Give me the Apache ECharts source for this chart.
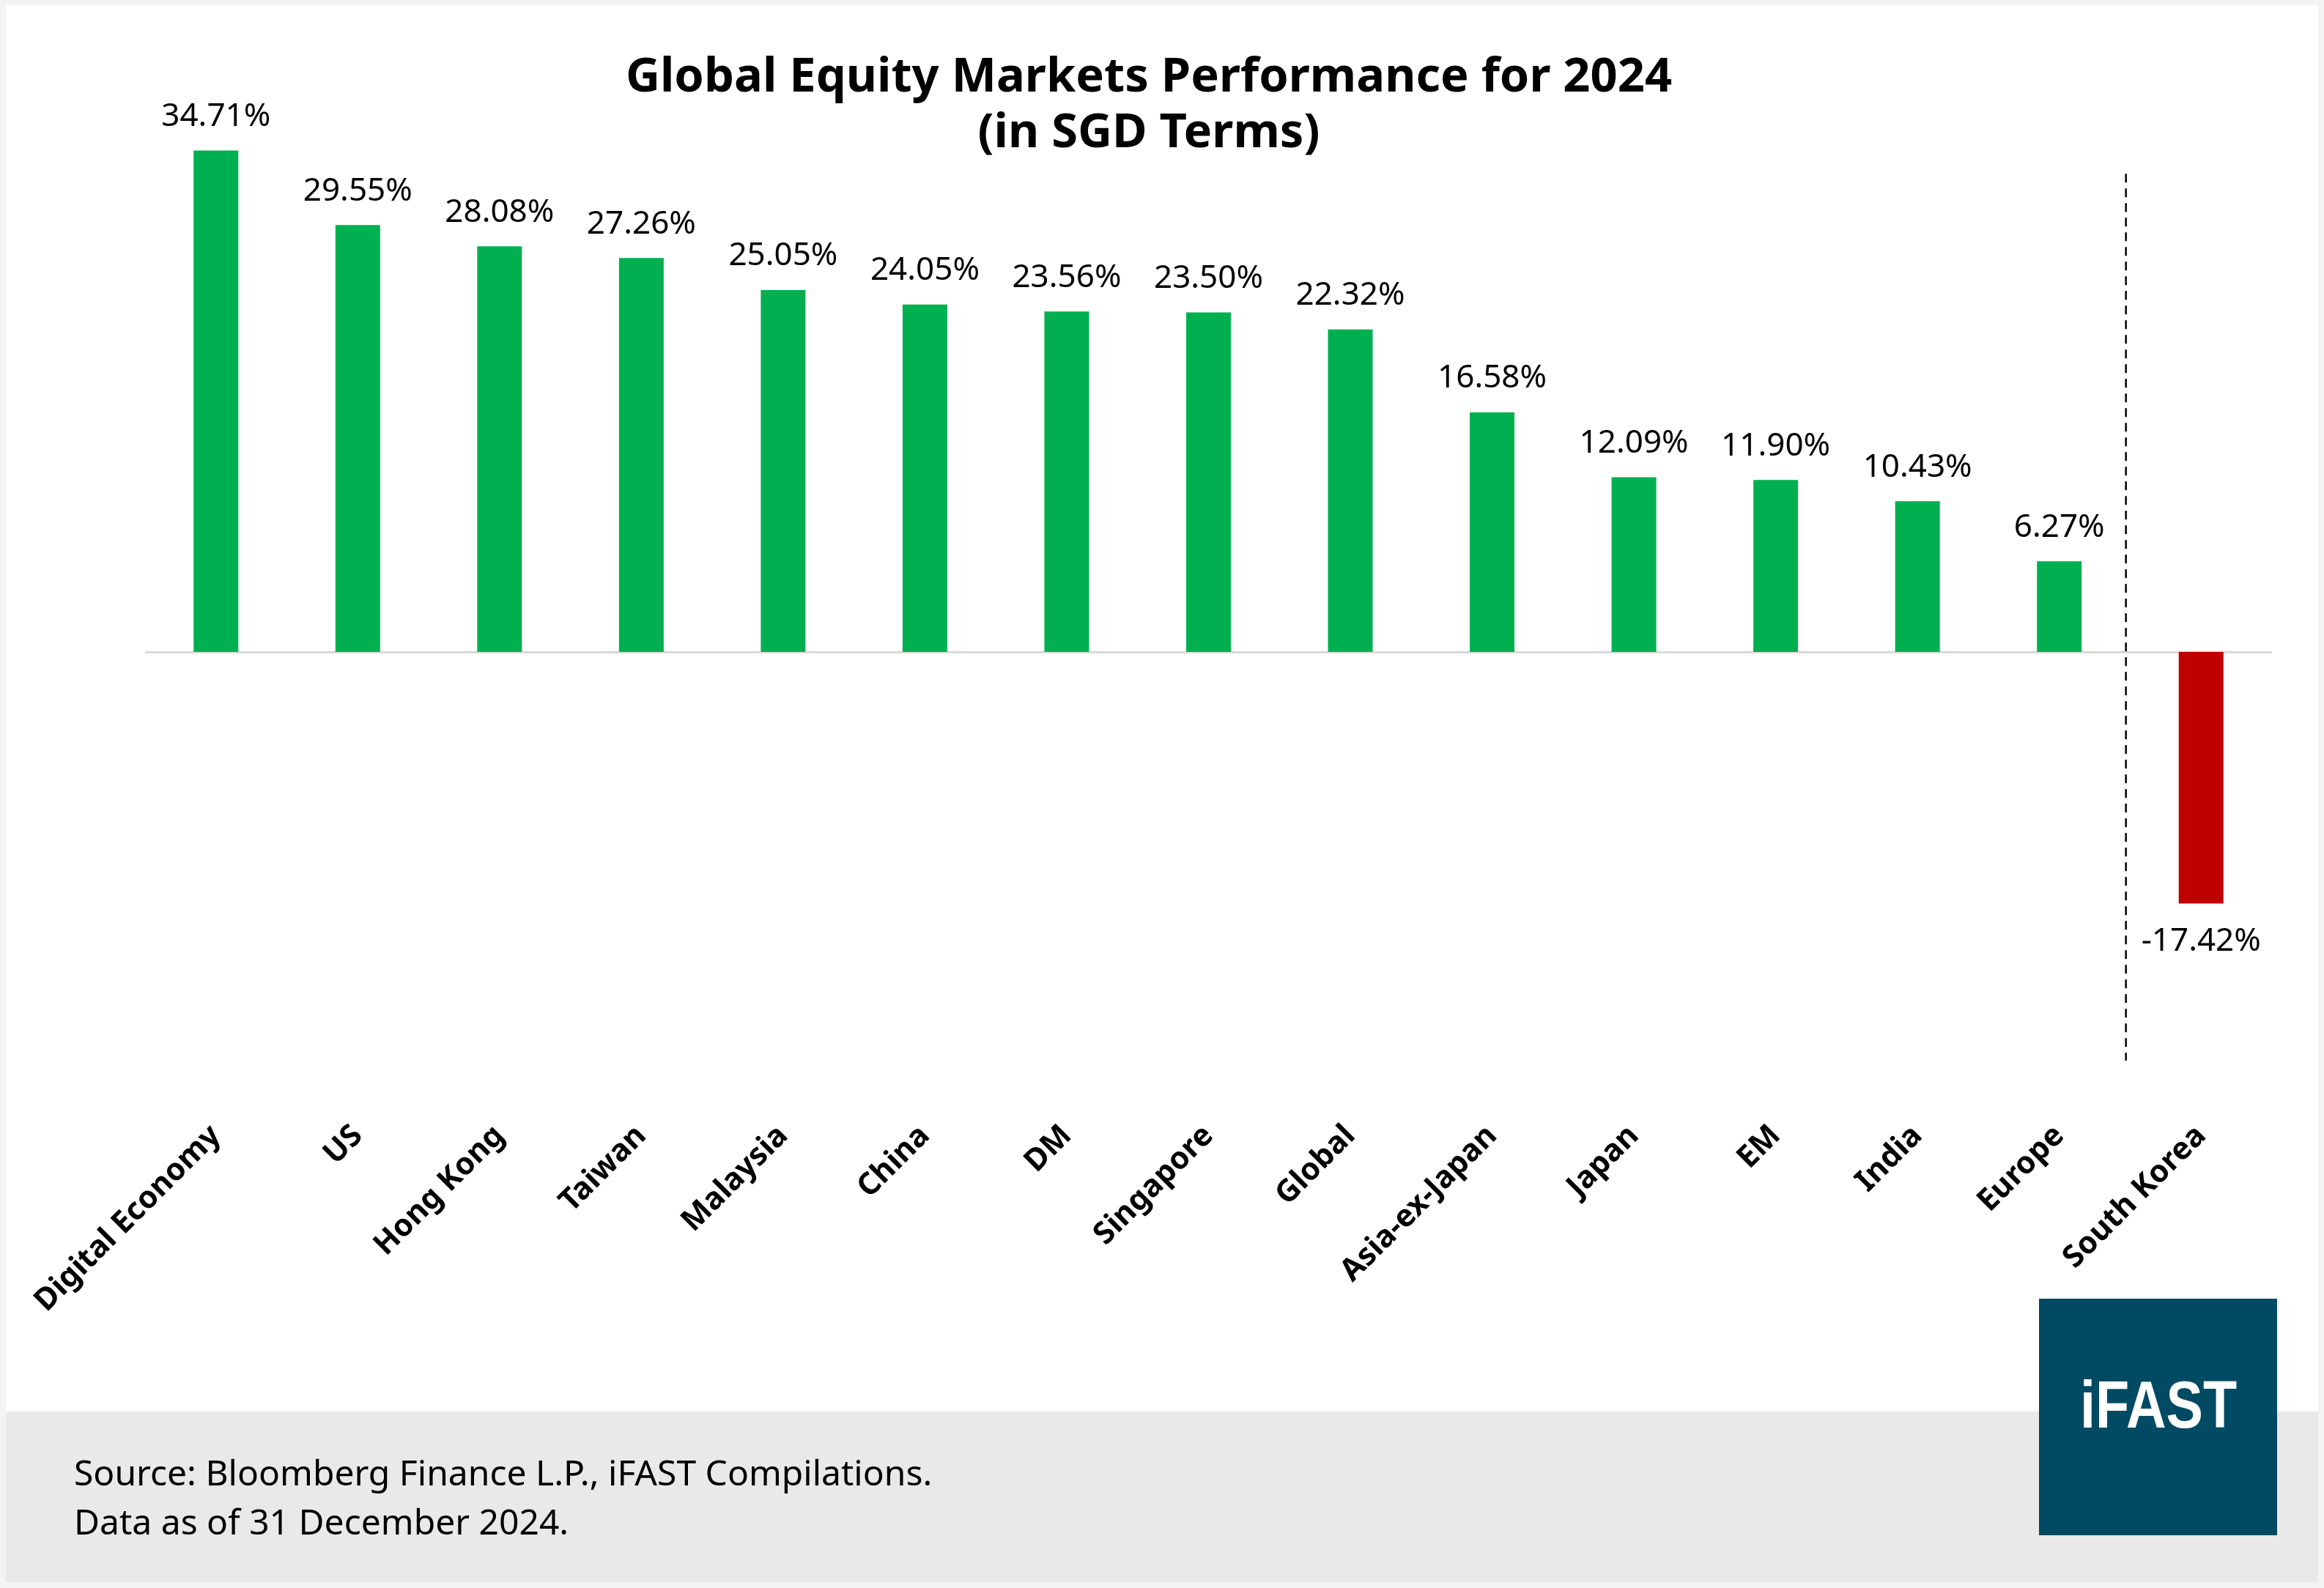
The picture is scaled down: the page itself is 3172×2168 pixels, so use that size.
<!DOCTYPE html>
<html>
<head>
<meta charset="utf-8">
<script src="https://cdn.jsdelivr.net/npm/echarts@6/dist/echarts.min.js"></script>
<style>
  html, body { margin: 0; padding: 0; background: #f3f3f3; }
  #chart { width: 3172px; height: 2168px; }
</style>
</head>
<body>
<div id="chart"></div>
<script>
// ---- data ----
const categories = ['Digital Economy', 'US', 'Hong Kong', 'Taiwan', 'Malaysia', 'China', 'DM', 'Singapore', 'Global', 'Asia-ex-Japan', 'Japan', 'EM', 'India', 'Europe', 'South Korea'];
const returns2024 = [34.71, 29.55, 28.08, 27.26, 25.05, 24.05, 23.56, 23.50, 22.32, 16.58, 12.09, 11.90, 10.43, 6.27, -17.42];
const titleLines = ['Global Equity Markets Performance for 2024', '(in SGD Terms)'];
const sourceLines = ['Source: Bloomberg Finance L.P., iFAST Compilations.', 'Data as of 31 December 2024.'];
const dividerX = [13.47, 13.47];
const dividerY = [33.1, -28.3];

const positiveColor = '#00b050';
const negativeColor = '#c00000';
const FONT = "'Noto Sans', 'DejaVu Sans', sans-serif";

const chart = echarts.init(document.getElementById('chart'), null, { renderer: 'canvas' });

const barData = returns2024.map(v => ({
  value: v,
  itemStyle: { color: v >= 0 ? positiveColor : negativeColor },
  label: { position: v >= 0 ? 'top' : 'bottom', distance: v >= 0 ? 24 : 30 }
}));

const option = {
  backgroundColor: 'transparent',
  animation: false,
  graphic: [
    { type: 'rect', z: -10, silent: true, shape: { x: 8, y: 7, width: 3156, height: 2153 }, style: { fill: '#ffffff' } },
    { type: 'rect', z: -9, silent: true, shape: { x: 8, y: 1927, width: 3156, height: 233 }, style: { fill: '#e9e9e9' } },
    { type: 'text', z: 10, silent: true, x: 1568, y: 106, style: { text: titleLines[0], align: 'center', verticalAlign: 'middle', font: "bold 65px " + FONT, fill: '#000' } },
    { type: 'text', z: 10, silent: true, x: 1568, y: 182, style: { text: titleLines[1], align: 'center', verticalAlign: 'middle', font: "bold 65px " + FONT, fill: '#000' } },
    { type: 'text', z: 10, silent: true, x: 101, y: 2014, style: { text: sourceLines[0], align: 'left', verticalAlign: 'middle', font: "48px " + FONT, fill: '#000' } },
    { type: 'text', z: 10, silent: true, x: 101, y: 2081, style: { text: sourceLines[1], align: 'left', verticalAlign: 'middle', font: "48px " + FONT, fill: '#000' } },
    { type: 'rect', z: 10, silent: true, shape: { x: 2783, y: 1773, width: 325, height: 323 }, style: { fill: '#004a63' } },
    { type: 'text', z: 11, silent: true, x: 2946, y: 1924, scaleX: 0.84, style: { text: 'iFAST', align: 'center', verticalAlign: 'middle', font: "bold 90px 'Liberation Sans', Arial, sans-serif", fill: '#ffffff' } }
  ],
  grid: { left: 198, right: 71, top: 199.7, bottom: 716.1, containLabel: false },
  xAxis: [
    {
      type: 'category',
      data: categories,
      position: 'bottom',
      axisLine: { show: false },
      axisTick: { show: false },
      axisLabel: {
        rotate: 45,
        interval: 0,
        margin: 92,
        fontFamily: FONT,
        fontWeight: 'bold',
        fontSize: 42,
        color: '#000'
      },
      splitLine: { show: false }
    },
    {
      type: 'value',
      min: -0.5,
      max: 14.5,
      show: false
    }
  ],
  yAxis: {
    type: 'value',
    min: -28.5,
    max: 35,
    show: false,
    splitLine: { show: false }
  },
  series: [
    {
      type: 'bar',
      data: barData,
      barWidth: 61,
      xAxisIndex: 0,
      label: {
        show: true,
        fontFamily: FONT,
        fontSize: 44,
        color: '#000',
        formatter: p => p.value.toFixed(2) + '%'
      },
      markLine: {
        silent: true,
        symbol: 'none',
        label: { show: false },
        lineStyle: { color: '#d9d9d9', width: 3, type: 'solid' },
        data: [{ yAxis: 0 }],
        z: 1
      },
      z: 3
    },
    {
      type: 'line',
      xAxisIndex: 1,
      data: dividerX.map((x, i) => [x, dividerY[i]]),
      symbol: 'none',
      silent: true,
      lineStyle: { color: '#000', width: 2.5, type: [12, 8] },
      z: 4
    }
  ]
};

chart.setOption(option);
</script>
</body>
</html>
